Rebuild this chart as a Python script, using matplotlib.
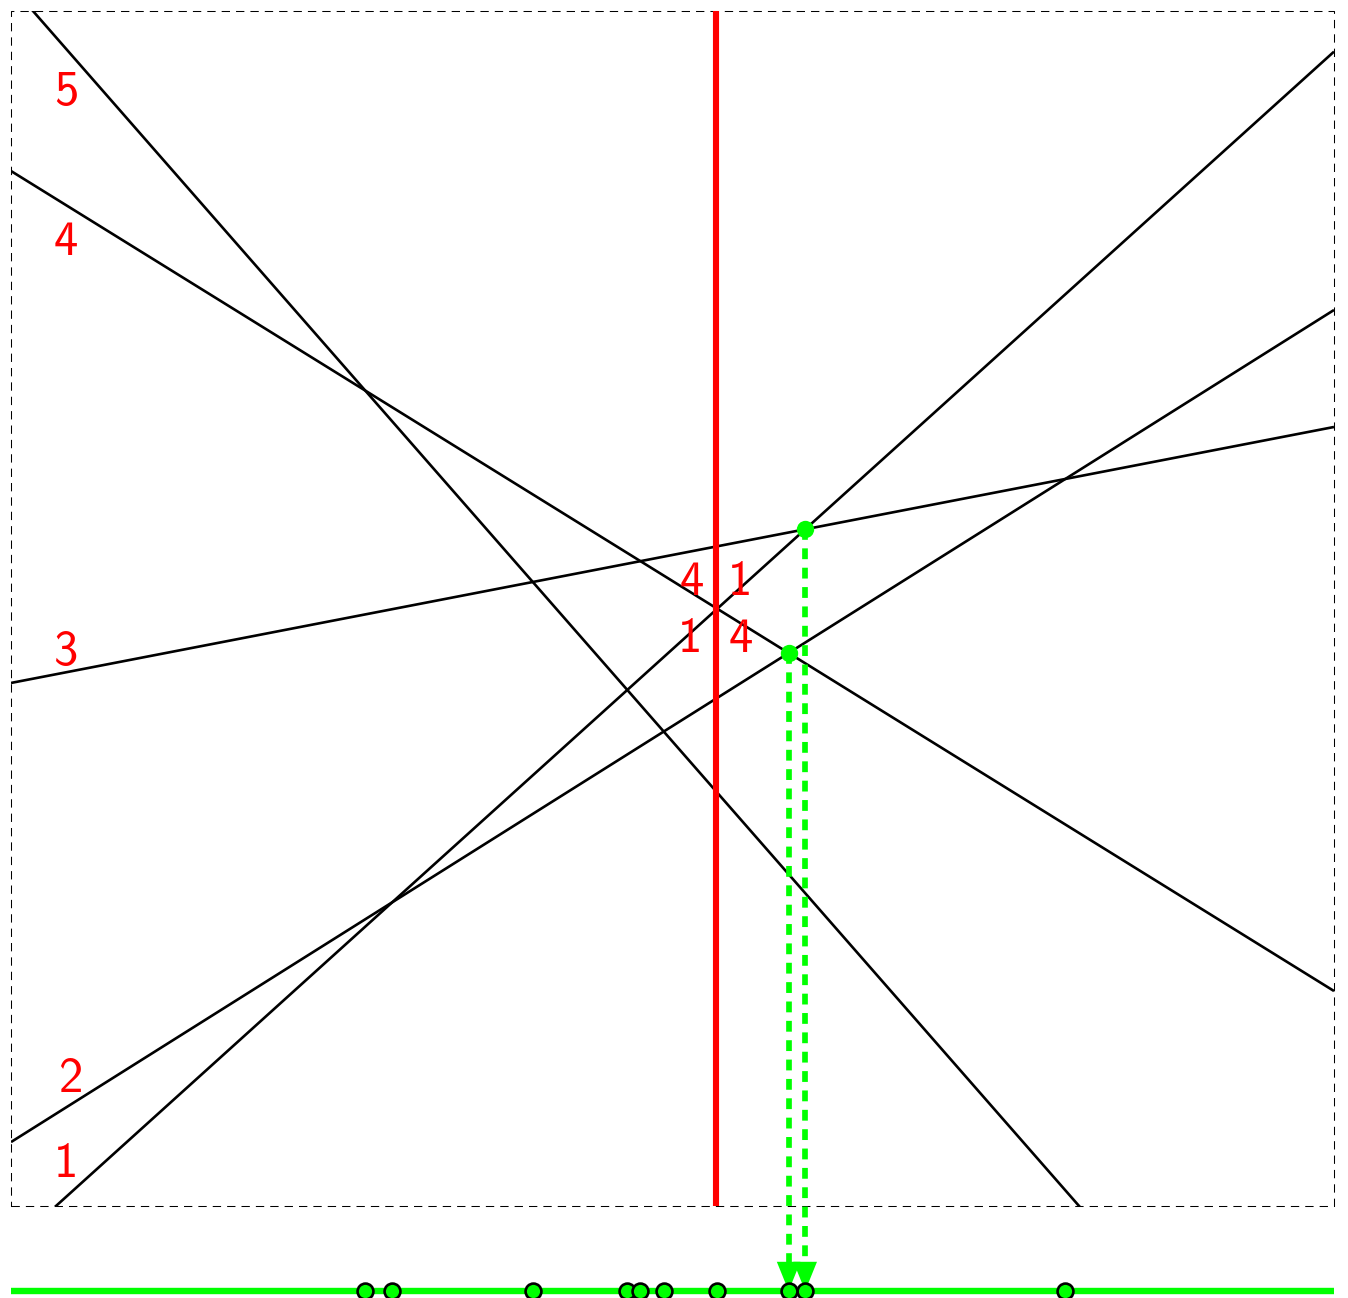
import numpy as np
import matplotlib.pyplot as plt

# lines y = m*x + b inside the unit box
slopes = [1.0, 0.6963, 0.2142, -0.6862, -1.2647]
intercepts = [-0.034, 0.0535, 0.4377, 0.8661, 1.021]
line_names = ['1', '2', '3', '4', '5']

# left-side labels (x, y) in box units
label_x = [0.0416, 0.0454, 0.0416, 0.0416, 0.0416]
label_y = [0.0345, 0.1056, 0.463, 0.806, 0.9315]

sweep_x = 0.5329
# order labels around the sweep line
order_labels = ['4', '1', '1', '4']
order_pos = [(0.5147, 0.5215), (0.551, 0.5215), (0.5132, 0.474), (0.5518, 0.474)]

# highlighted intersections (pairs of line indices)
found_pairs = [(0, 2), (1, 3)]

base_y = -0.0711
green = '#00ff00'
red = '#ff0000'

def cross(i, j):
    x = (intercepts[j] - intercepts[i]) / (slopes[i] - slopes[j])
    return x, slopes[i] * x + intercepts[i]

events = []
for i in range(len(slopes)):
    for j in range(i + 1, len(slopes)):
        x, y = cross(i, j)
        if 0 <= x <= 1 and 0 <= y <= 1:
            events.append(x)

fig = plt.figure(figsize=(13.48, 12.98), dpi=100)
ax = fig.add_axes([11/1348, 92/1298, 1323/1348, 1195/1298])
ax.set_xlim(0, 1)
ax.set_ylim(0, 1)
ax.axis('off')

# dashed box
ax.plot([0, 1, 1, 0, 0], [0, 0, 1, 1, 0], color='black', lw=0.75,
        linestyle=(0, (8, 5.8)), clip_on=False, zorder=1)

for m, b in zip(slopes, intercepts):
    ax.plot([0, 1], [b, m + b], color='black', lw=1.9, solid_capstyle='butt', zorder=2)

ax.axvline(sweep_x, color=red, lw=4.4, zorder=3)

for name, x, y in zip(line_names, label_x, label_y):
    ax.text(x, y, name, color=red, fontsize=35, family='cmss10', ha='center', va='center')
for name, (x, y) in zip(order_labels, order_pos):
    ax.text(x, y, name, color=red, fontsize=35, family='cmss10', ha='center', va='center')

# bottom event line
ax.plot([0, 1], [base_y, base_y], color=green, lw=4.6, clip_on=False, zorder=4,
        solid_capstyle='butt')

for i, j in found_pairs:
    x, y = cross(i, j)
    ax.plot([x, x], [y, base_y + 0.022], color=green, lw=4.1,
            linestyle=(0, (1.9, 1.5)), clip_on=False, zorder=5)
    ax.annotate('', xy=(x, base_y), xytext=(x, base_y + 0.026),
                arrowprops=dict(arrowstyle='-|>,head_length=2.1,head_width=0.85',
                                mutation_scale=10, color=green, lw=0,
                                shrinkA=0, shrinkB=0),
                annotation_clip=False, zorder=5)
    ax.plot([x], [y], 'o', color=green, ms=12.5, mew=0, zorder=6)

ax.plot(events, [base_y] * len(events), 'o', color=green, ms=11.4, mec='black',
        mew=1.9, clip_on=False, zorder=7)

fig.savefig('out.png', dpi=100)
